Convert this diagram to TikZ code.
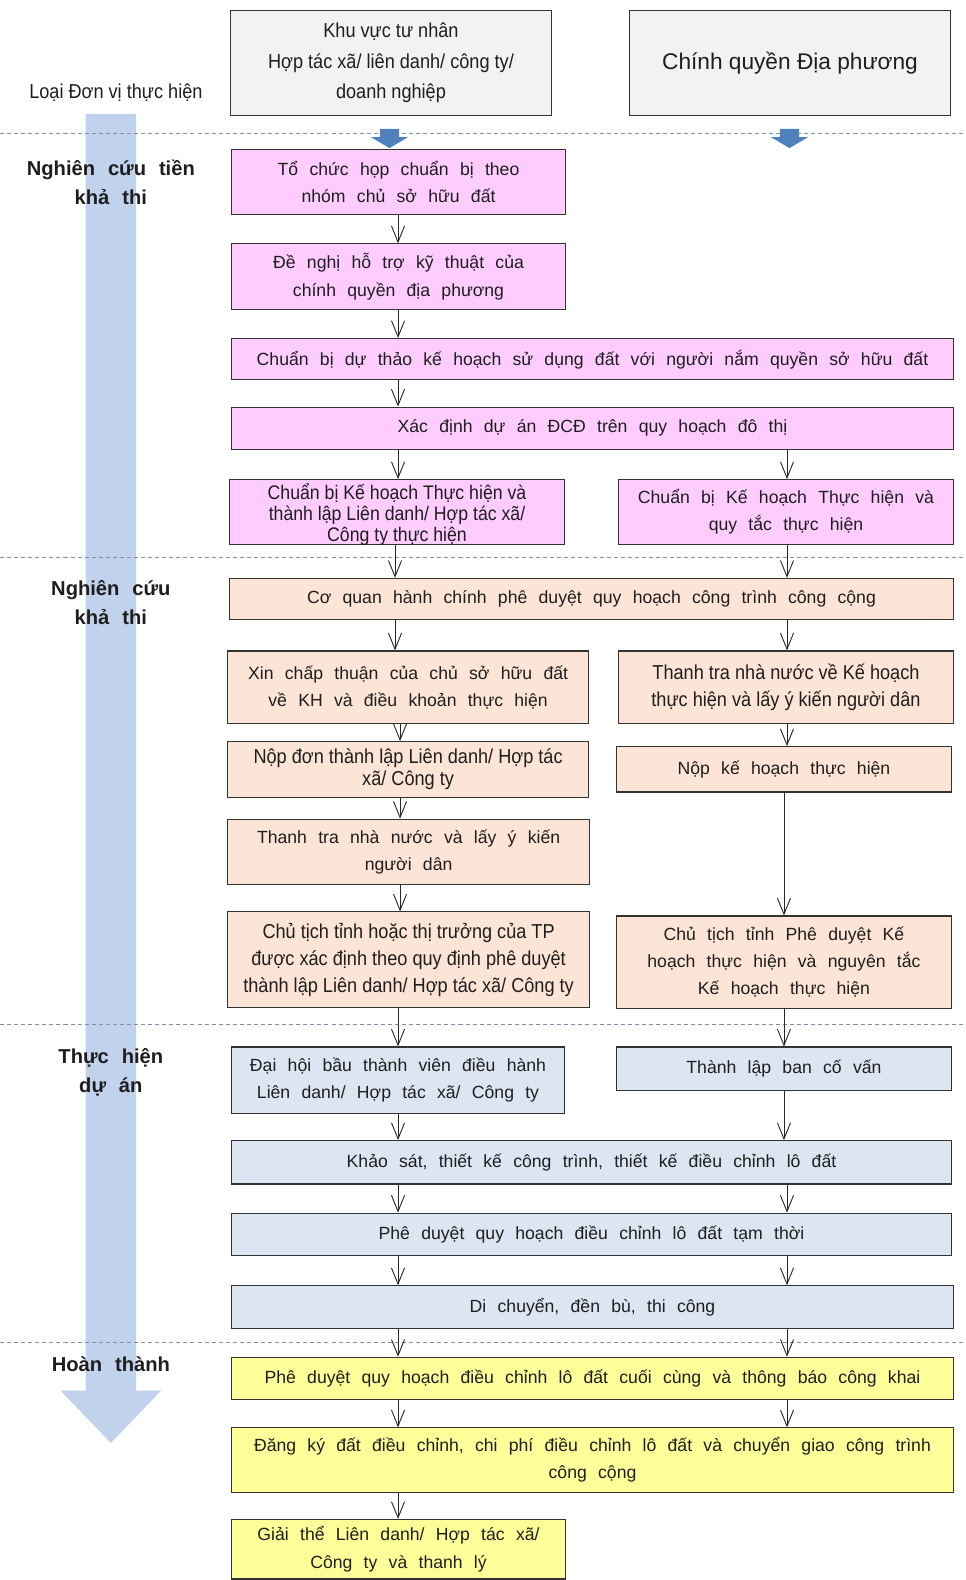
\documentclass[tikz,border=0pt]{standalone}
\usepackage{fontspec}
\setmainfont{Liberation Sans}
\newfontfamily\wfont{Liberation Sans}[WordSpace=2.3]
\newfontfamily\nfont{Liberation Sans}[FakeStretch=0.9]
\usetikzlibrary{arrows.meta}
\definecolor{gr}{RGB}{242,242,242}
\definecolor{pk}{RGB}{255,204,255}
\definecolor{pc}{RGB}{252,228,214}
\definecolor{lb}{RGB}{220,230,242}
\definecolor{yl}{RGB}{255,255,153}
\definecolor{bigarrow}{RGB}{192,210,236}
\definecolor{smallarrow}{RGB}{79,129,189}
\definecolor{dashc}{RGB}{125,145,175}
\definecolor{txt}{RGB}{30,30,30}
\newcommand\bx[7]{\node[#6,minimum width={(#4)-(#2)},minimum height={(#5)-(#3)}] (#1) at ({((#2)+(#4))/2},{((#3)+(#5))/2}) {#7};}
\tikzset{
  box/.style={draw=black!80,line width=1.1pt,inner sep=2pt,align=center,text=txt,font=\wfont\fontsize{17.5}{27}\selectfont},
  nbox/.style={box,font=\nfont\fontsize{20}{27}\selectfont},
  side/.style={align=center,text=txt,font=\wfont\bfseries\fontsize{20}{29}\selectfont},
  arr/.style={draw=black!85,line width=0.9pt,-{Straight Barb[length=16pt,width=13pt,line width=0.9pt]}},
  sep/.style={draw=dashc,line width=1pt,dash pattern=on 4pt off 3pt},
}
\begin{document}
\begin{tikzpicture}[x=1pt,y=-1pt]
\useasboundingbox (0,0) rectangle (958,1568);
% big arrow
\fill[bigarrow] (85,113) -- (135,113) -- (135,1380) -- (160,1380) -- (110,1432) -- (60,1380) -- (85,1380) -- cycle;
% separators
\draw[sep] (0,132) -- (958,132);
\draw[sep] (0,553) -- (958,553);
\draw[sep] (0,1017) -- (958,1017);
\draw[sep] (0,1332) -- (958,1332);
% small block arrows
\fill[smallarrow] (377,128) -- (396,128) -- (396,136) -- (405,136) -- (386.5,147) -- (368,136) -- (377,136) -- cycle;
\fill[smallarrow] (774,128) -- (793,128) -- (793,136) -- (802,136) -- (783.5,147) -- (765,136) -- (774,136) -- cycle;
% labels
\node[text=txt,font=\nfont\fontsize{20}{24}\selectfont] (lbl) at (115,92) {Loại Đơn vị thực hiện};
\node[side] (s1) at (110,181) {Nghiên cứu tiền\\khả thi};
\node[side] (s2) at (110,598) {Nghiên cứu\\khả thi};
\node[side] (s3) at (110,1064) {Thực hiện\\dự án};
\node[side] (s4) at (110,1354) {Hoàn thành};
% header boxes
\bx{hA}{229}{10}{547}{115}{nbox,fill=gr,font=\nfont\fontsize{20}{30.5}\selectfont}{Khu vực tư nhân\\Hợp tác xã/ liên danh/ công ty/\\doanh nghiệp}
\bx{hB}{625}{10}{943}{115}{box,fill=gr,font=\fontsize{22.5}{26}\selectfont}{Chính quyền Địa phương}
% pink
\bx{p1}{230}{148}{561}{213}{box,fill=pk}{Tổ chức họp chuẩn bị theo\\nhóm chủ sở hữu đất}
\bx{p2}{230}{242}{561}{307}{box,fill=pk}{Đề nghị hỗ trợ kỹ thuật của\\chính quyền địa phương}
\bx{p3}{230}{336}{946}{377}{box,fill=pk}{Chuẩn bị dự thảo kế hoạch sử dụng đất với người nắm quyền sở hữu đất}
\bx{p4}{230}{404}{946}{446}{box,fill=pk}{Xác định dự án ĐCĐ trên quy hoạch đô thị}
\bx{p5}{228}{476}{560}{540}{nbox,fill=pk,font=\nfont\fontsize{19.5}{21}\selectfont}{\raisebox{-9pt}[0pt][0pt]{\begin{tabular}{@{}c@{}}Chuẩn bị Kế hoạch Thực hiện và\\thành lập Liên danh/ Hợp tác xã/\\Công ty thực hiện\end{tabular}}}
\bx{p6}{614}{476}{946}{540}{box,fill=pk}{Chuẩn bị Kế hoạch Thực hiện và\\quy tắc thực hiện}
% peach
\bx{o1}{228}{574}{946}{615}{box,fill=pc}{Cơ quan hành chính phê duyệt quy hoạch công trình công cộng}
\bx{o2}{226}{646}{584}{718}{box,fill=pc}{Xin chấp thuận của chủ sở hữu đất\\về KH và điều khoản thực hiện}
\bx{o3}{614}{646}{946}{718}{nbox,fill=pc}{Thanh tra nhà nước về Kế hoạch\\thực hiện và lấy ý kiến người dân}
\bx{o4}{226}{736}{584}{791}{nbox,fill=pc,font=\nfont\fontsize{20}{22}\selectfont}{Nộp đơn thành lập Liên danh/ Hợp tác\\xã/ Công ty}
\bx{o5}{612}{741}{944}{786}{box,fill=pc}{Nộp kế hoạch thực hiện}
\bx{o6}{226}{813}{585}{878}{box,fill=pc}{Thanh tra nhà nước và lấy ý kiến\\người dân}
\bx{o7}{226}{905}{585}{1000}{nbox,fill=pc}{Chủ tịch tỉnh hoặc thị trưởng của TP\\được xác định theo quy định phê duyệt\\thành lập Liên danh/ Hợp tác xã/ Công ty}
\bx{o8}{612}{909}{944}{1001}{box,fill=pc}{Chủ tịch tỉnh Phê duyệt Kế\\hoạch thực hiện và nguyên tắc\\Kế hoạch thực hiện}
% light blue
\bx{b1}{230}{1039}{560}{1105}{box,fill=lb}{Đại hội bầu thành viên điều hành\\Liên danh/ Hợp tác xã/ Công ty}
\bx{b2}{612}{1039}{944}{1082}{box,fill=lb}{Thành lập ban cố vấn}
\bx{b3}{230}{1132}{944}{1175}{box,fill=lb}{Khảo sát, thiết kế công trình, thiết kế điều chỉnh lô đất}
\bx{b4}{230}{1204}{944}{1246}{box,fill=lb}{Phê duyệt quy hoạch điều chỉnh lô đất tạm thời}
\bx{b5}{230}{1276}{946}{1318}{box,fill=lb}{Di chuyển, đền bù, thi công}
% yellow
\bx{y1}{230}{1347}{946}{1389}{box,fill=yl}{Phê duyệt quy hoạch điều chỉnh lô đất cuối cùng và thông báo công khai}
\bx{y2}{230}{1417}{946}{1481}{box,fill=yl}{Đăng ký đất điều chỉnh, chi phí điều chỉnh lô đất và chuyển giao công trình\\công cộng}
\bx{y3}{230}{1508}{561}{1567}{box,fill=yl}{Giải thể Liên danh/ Hợp tác xã/\\Công ty và thanh lý}
% columns
\coordinate (L) at (395,0);
\coordinate (La) at (392,0);
\coordinate (Lb) at (397,0);
\coordinate (R) at (781,0);
\coordinate (Rb) at (778,0);
% connectors
\draw[arr] (p1.south -| L) -- (p2.north -| L);
\draw[arr] (p2.south -| L) -- (p3.north -| L);
\draw[arr] (p3.south -| L) -- (p4.north -| L);
\draw[arr] (p4.south -| L) -- (p5.north -| L);
\draw[arr] (p4.south -| R) -- (p6.north -| R);
\draw[arr] (p5.south -| La) -- (o1.north -| La);
\draw[arr] (p6.south -| R) -- (o1.north -| R);
\draw[arr] (o1.south -| La) -- (o2.north -| La);
\draw[arr] (o1.south -| R) -- (o3.north -| R);
\draw[arr] (o2.south -| Lb) -- (o4.north -| Lb);
\draw[arr] (o3.south -| R) -- (o5.north -| R);
\draw[arr] (o4.south -| Lb) -- (o6.north -| Lb);
\draw[arr] (o5.south -| Rb) -- (o8.north -| Rb);
\draw[arr] (o6.south -| Lb) -- (o7.north -| Lb);
\draw[arr] (o7.south -| L) -- (b1.north -| L);
\draw[arr] (o8.south -| Rb) -- (b2.north -| Rb);
\draw[arr] (b1.south -| L) -- (b3.north -| L);
\draw[arr] (b2.south -| Rb) -- (b3.north -| Rb);
\draw[arr] (b3.south -| L) -- (b4.north -| L);
\draw[arr] (b3.south -| R) -- (b4.north -| R);
\draw[arr] (b4.south -| L) -- (b5.north -| L);
\draw[arr] (b4.south -| R) -- (b5.north -| R);
\draw[arr] (b5.south -| L) -- (y1.north -| L);
\draw[arr] (b5.south -| R) -- (y1.north -| R);
\draw[arr] (y1.south -| L) -- (y2.north -| L);
\draw[arr] (y1.south -| R) -- (y2.north -| R);
\draw[arr] (y2.south -| L) -- (y3.north -| L);
\end{tikzpicture}
\end{document}
